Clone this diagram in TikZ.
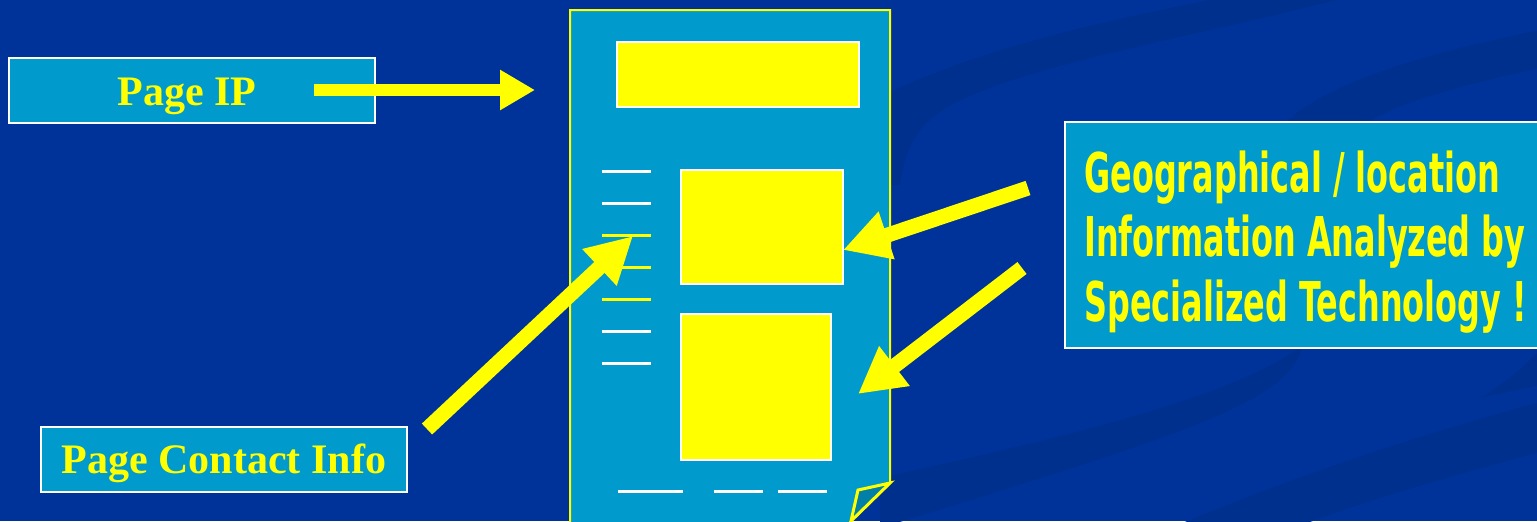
\documentclass[tikz,border=0pt]{standalone}
\usepackage{fontspec}
\usetikzlibrary{arrows.meta}
\newfontfamily\geofont[FakeStretch=0.582,BoldFont={DejaVu Sans Bold}]{DejaVu Sans}
\newfontfamily\serifbold{Liberation Serif}
\definecolor{bgblue}{HTML}{003399}
\definecolor{bgdark}{HTML}{00308E}
\definecolor{pagecol}{HTML}{009ACD}
\definecolor{foldcol}{HTML}{007FA8}
\definecolor{ylw}{HTML}{FFFF00}
\tikzset{
  lblbox/.style={draw=white,line width=1pt,fill=pagecol,inner sep=0pt},
  ybox/.style={draw=white,line width=1pt,fill=ylw,inner sep=0pt},
  serlbl/.style={text=ylw,font=\serifbold\bfseries\fontsize{21pt}{24pt}\selectfont,inner sep=0pt,anchor=base},
  geolbl/.style={text=ylw,font=\geofont\bfseries\fontsize{27.4pt}{32pt}\selectfont,inner sep=0pt,anchor=base west},
  wline/.style={draw=white,line width=1.5pt},
  yline/.style={draw=ylw,line width=1.5pt},
  bigarrow/.style={draw=ylw,line width=7.5pt,-{Triangle[length=23pt,width=23.5pt]}},
  iparrow/.style={draw=ylw,line width=6.25pt,-{Triangle[length=17.5pt,width=19pt]}},
  ribbon/.style={fill=bgdark,draw=none}
}
\begin{document}
\begin{tikzpicture}[x=0.5pt,y=-0.5pt]
\useasboundingbox (0,0) rectangle (1537,521);
\begin{scope}
\clip (0,0) rectangle (1537,521);
\fill[bgblue] (0,0) rectangle (1537,521);
% background ribbons
\fill[ribbon] (870,102) .. controls (960,55) and (1080,25) .. (1220,-2) -- (1345,-2)
  .. controls (1180,40) and (1000,70) .. (940,112) .. controls (915,130) and (905,150) .. (900,185) -- (870,185) -- cycle;
\fill[ribbon] (1270,140) .. controls (1300,95) and (1390,60) .. (1540,30) -- (1540,68)
  .. controls (1420,95) and (1350,115) .. (1324,165) -- cycle;
\fill[ribbon] (880,478) .. controls (1050,440) and (1230,400) .. (1303,345)
  .. controls (1290,400) and (1200,430) .. (880,528) -- cycle;
\fill[ribbon] (1088,564) .. controls (1250,490) and (1400,440) .. (1540,402) -- (1540,452)
  .. controls (1400,490) and (1300,520) .. (1212,564) -- cycle;
\fill[ribbon] (1480,398) .. controls (1510,380) and (1525,365) .. (1540,350) -- (1540,385) -- cycle;
% page
\draw[ylw,line width=1pt,fill=pagecol] (570,540) -- (570,10) -- (890,10) -- (890,483) -- (842,530) -- (842,540) -- cycle;
\draw[ylw,line width=1.5pt,fill=foldcol,line join=miter] (890,483) -- (858,490) -- (851,521) -- cycle;
\end{scope}
% yellow blocks on page
\node[ybox,minimum width=121pt,minimum height=32.5pt] (topblock) at (738,74.5) {};
\node[ybox,minimum width=81pt,minimum height=57pt] (midblock) at (762,227) {};
\node[ybox,minimum width=75pt,minimum height=73pt] (lowblock) at (756,387) {};
% list lines
\foreach \yy/\st [count=\i] in {171/wline,203/wline,235/yline,267/yline,299/yline,331/wline,363/wline}{
  \coordinate (l\i a) at (602,\yy);
  \coordinate (l\i b) at (651,\yy);
  \draw[\st] (l\i a) -- (l\i b);
}
% bottom lines
\coordinate (b1a) at (618,491); \coordinate (b1b) at (683,491);
\coordinate (b2a) at (714,491); \coordinate (b2b) at (763,491);
\coordinate (b3a) at (778,491); \coordinate (b3b) at (827,491);
\draw[wline] (b1a) -- (b1b);
\draw[wline] (b2a) -- (b2b);
\draw[wline] (b3a) -- (b3b);
% label boxes
\node[lblbox,minimum width=183pt,minimum height=32.5pt] (ipbox) at (192,90.5) {};
\node[serlbl] (iptext) at (187,105) {Page IP};
\node[lblbox,minimum width=183pt,minimum height=32.5pt] (contactbox) at (224,459.5) {};
\node[serlbl] (contacttext) at (224,473) {Page Contact Info};
\begin{scope}
\clip (0,0) rectangle (1537,521);
\node[lblbox,minimum width=240pt,minimum height=113pt] (geobox) at (1305,235) {};
\end{scope}
\node[geolbl] (geo1) at (1084,192) {Geographical / location};
\node[geolbl] (geo2) at (1084,256) {Information Analyzed by};
\node[geolbl] (geo3) at (1084,321) {Specialized Technology !};
% arrows
\coordinate (ipA) at (314,90);
\coordinate (ipB) at (535,90);
\draw[iparrow] (ipA) -- (ipB);
\coordinate (ctA) at (427,429);
\coordinate (ctB) at (633,236);
\draw[bigarrow] (ctA) -- (ctB);
\coordinate (g1A) at (1028,188);
\coordinate (g1B) at (843,250);
\draw[bigarrow] (g1A) -- (g1B);
\coordinate (g2A) at (1022,268);
\coordinate (g2B) at (858,394);
\draw[bigarrow] (g2A) -- (g2B);
\end{tikzpicture}
\end{document}
